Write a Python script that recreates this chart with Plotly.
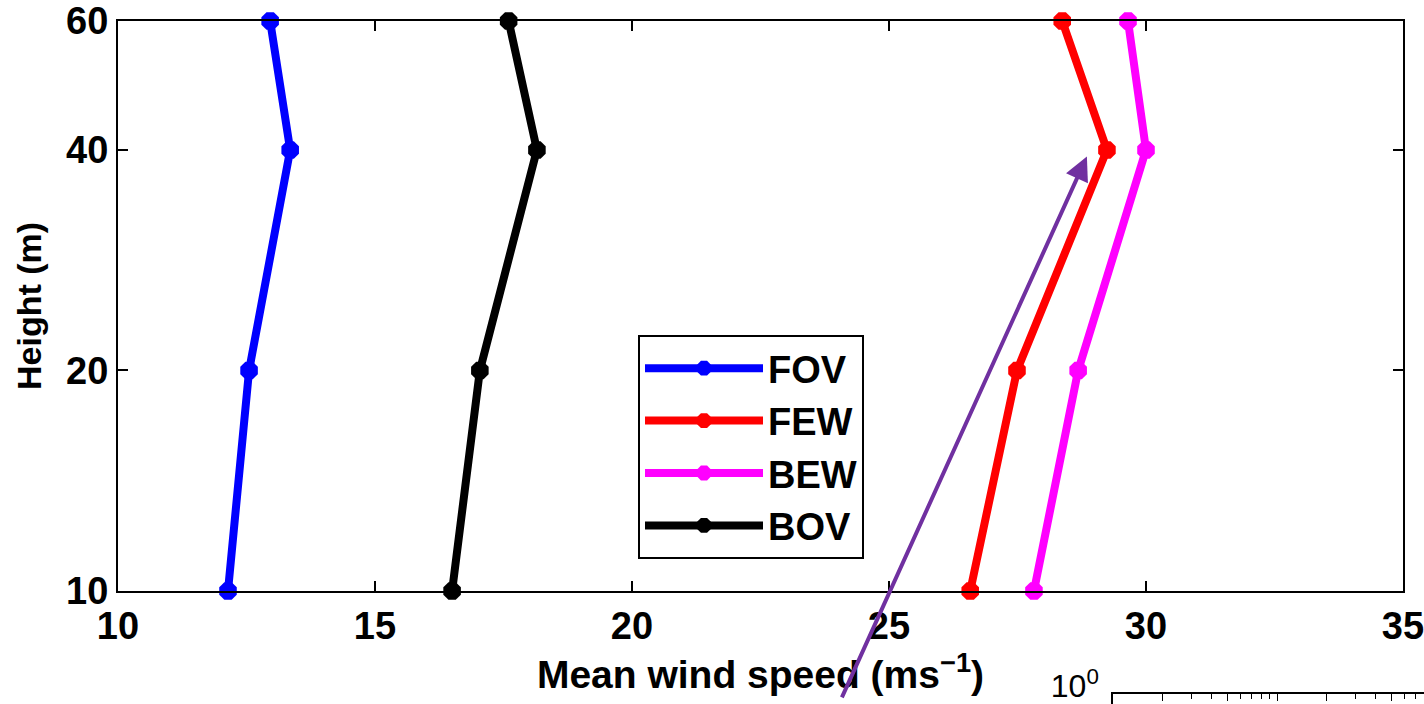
import plotly.graph_objects as go
import numpy as np

heights = [10, 20, 40, 60]
series_names = ["FOV", "FEW", "BEW", "BOV"]
fov = [12.14, 12.55, 13.35, 12.96]
few = [26.58, 27.49, 29.24, 28.37]
bew = [27.82, 28.68, 30.0, 29.65]
bov = [16.5, 17.04, 18.15, 17.6]
colors = ["#0000FF", "#FF0000", "#FF00FF", "#000000"]
x_ticks = [10, 15, 20, 25, 30, 35]
y_ticks = [10, 20, 40, 60]

FONT = "Liberation Sans"
W, H = 1424, 704
ML, MT = 118, 21
plot_w = W - ML
plot_h = H - MT

fig = go.Figure()
for name, vals, col in zip(series_names, [fov, few, bew, bov], colors):
    fig.add_trace(go.Scatter(
        x=vals, y=heights, name=name, mode="lines+markers",
        line=dict(color=col, width=8),
        marker=dict(color=col, size=19, symbol="octagon"),
        xaxis="x", yaxis="y", cliponaxis=False,
    ))

# fragment of lower panel (partially visible)
fig.add_trace(go.Scatter(x=[1], y=[0.1], mode="markers", marker=dict(opacity=0),
                         showlegend=False, xaxis="x2", yaxis="y2", hoverinfo="skip"))

main_x_dom = [0, (1403 - ML) / plot_w]
main_y_dom = [(H - 591) / plot_h, 1]

axis_font = dict(family=FONT, size=38, color="black", weight="bold")

fig.update_layout(
    width=W, height=H,
    margin=dict(l=ML, r=0, t=MT, b=0, autoexpand=False),
    paper_bgcolor="white", plot_bgcolor="white",
    font=dict(family=FONT, color="black"),
    xaxis=dict(
        domain=main_x_dom, range=[10, 35], tickvals=x_ticks,
        ticks="inside", ticklen=10, tickwidth=1.5, tickcolor="black",
        showline=True, linecolor="black", linewidth=2, mirror="ticks",
        showgrid=False, zeroline=False, tickfont=axis_font, automargin=False,
        ticklabeloverflow="allow",
        title=dict(text="Mean wind speed (ms<sup>−1</sup>)", font=dict(family=FONT, size=39, color="black", weight="bold"), standoff=4),
        anchor="y",
    ),
    yaxis=dict(
        domain=main_y_dom, type="log", range=[1, np.log10(60)], tickvals=y_ticks,
        ticks="inside", ticklen=10, tickwidth=1.5, tickcolor="black",
        showline=True, linecolor="black", linewidth=2, mirror="ticks",
        showgrid=False, zeroline=False, tickfont=axis_font, automargin=False,
        ticklabeloverflow="allow",
        title=dict(text="Height (m)", font=dict(family=FONT, size=34, color="black", weight="bold"), standoff=14),
        anchor="x",
    ),
    xaxis2=dict(
        domain=[(1113 - ML) / plot_w, 1], type="log", range=[0, (W - 1113) / 164.0],
        side="top", ticks="inside", ticklen=7, tickcolor="black", showticklabels=False,
        showline=True, linecolor="black", linewidth=1.5, showgrid=False, zeroline=False,
        minor=dict(ticks="inside", ticklen=5, tickcolor="black", showgrid=False),
        anchor="y2", automargin=False,
    ),
    yaxis2=dict(
        domain=[0, 10 / plot_h], type="log", range=[-0.2, 0],
        tickvals=[1], ticktext=["10<sup>0</sup>"], ticks="inside", ticklen=5,
        tickcolor="black", showline=True, linecolor="black", linewidth=1.5,
        showgrid=False, zeroline=False, automargin=False,
        ticklabeloverflow="allow", ticklabelshift=-8, ticklabelstandoff=6,
        tickfont=dict(family=FONT, size=32, color="black"),
        anchor="x2",
    ),
    legend=dict(
        x=(638 - ML) / plot_w, y=(H - 335) / plot_h,
        xanchor="left", yanchor="top",
        bgcolor="white", bordercolor="black", borderwidth=2,
        font=dict(family=FONT, size=38, color="black", weight="bold"),
        itemwidth=118, tracegroupgap=0,
    ),
    showlegend=True,
)

# purple arrow
fig.add_annotation(
    x=28.85, y=np.log10(39.2), xref="x", yref="y",
    ax=-248, ay=550, axref="pixel", ayref="pixel",
    text=" ", showarrow=True, arrowhead=2, arrowsize=1.2, arrowwidth=4,
    arrowcolor="#7030A0",
)

fig.write_html("out.html")
